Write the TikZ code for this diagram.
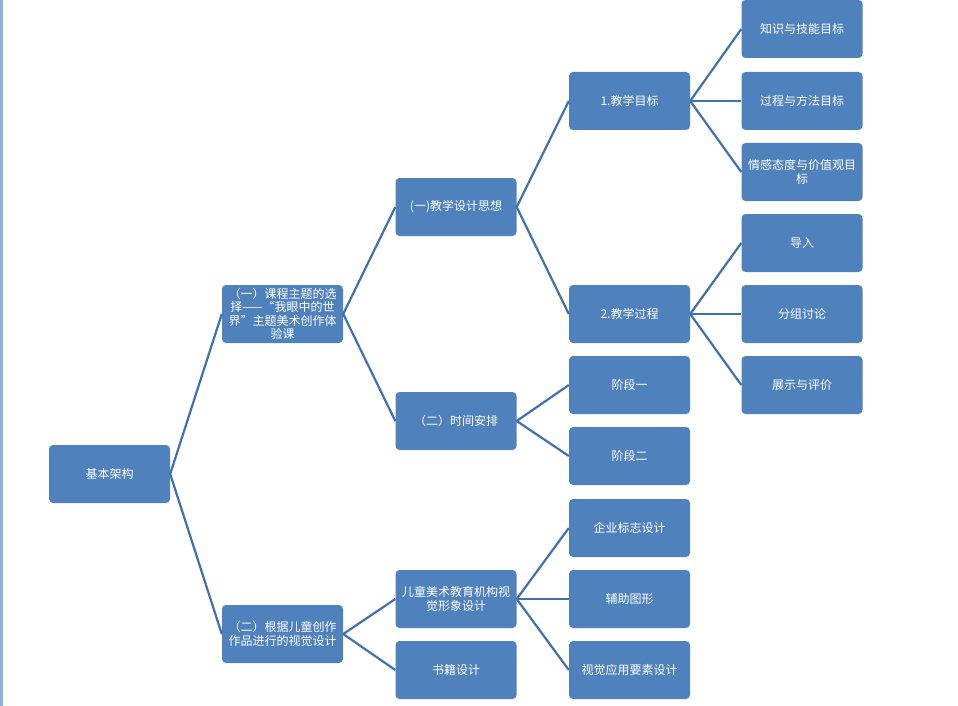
\documentclass[tikz,border=0pt]{standalone}
\usepackage{fontspec}
\newfontfamily\cjk{Noto Sans CJK SC}
\usepackage{xcolor}
\definecolor{boxblue}{HTML}{4F81BD}
\definecolor{linkblue}{HTML}{4170AE}
\definecolor{edgeblue}{HTML}{8DB0DC}

\begin{document}
\begin{tikzpicture}[
  x=1pt,y=-1pt,
  box/.style={fill=boxblue,rounded corners=4pt,minimum width=121pt,minimum height=58pt,
    inner sep=2pt,align=center,text=white,font=\cjk\fontsize{12}{13.5}\selectfont},
  link/.style={draw=linkblue,line width=2.2pt},
]
  \useasboundingbox (0,0) rectangle (958,706);
  \fill[edgeblue] (0,0) rectangle (2.5,706);

  % level 0 and 1
  \node[box] (root) at (109.5,474) {基本架构};
  \node[box] (course) at (282.5,314) {（一）课程主题的选\\择——“我眼中的世\\界”主题美术创作体\\验课};
  \node[box] (visual) at (282.5,634) {（二）根据儿童创作\\作品进行的视觉设计};

  % level 2
  \node[box] (idea) at (456,207) {(一)教学设计思想};
  \node[box] (time) at (456,421) {（二）时间安排};
  \node[box] (brand) at (456,599) {儿童美术教育机构视\\觉形象设计};
  \node[box] (book) at (456,670) {书籍设计};

  % level 3
  \node[box] (goal) at (629.5,101) {1.教学目标};
  \node[box] (proc) at (629.5,314) {2.教学过程};
  \node[box] (stage1) at (629.5,385) {阶段一};
  \node[box] (stage2) at (629.5,456) {阶段二};
  \node[box] (logo) at (629.5,528) {企业标志设计};
  \node[box] (aux) at (629.5,599) {辅助图形};
  \node[box] (apply) at (629.5,670) {视觉应用要素设计};

  % level 4
  \node[box] (skill) at (802,29) {知识与技能目标};
  \node[box] (method) at (802,101) {过程与方法目标};
  \node[box] (value) at (802,172) {情感态度与价值观目\\标};
  \node[box] (intro) at (802,243) {导入};
  \node[box] (group) at (802,314) {分组讨论};
  \node[box] (show) at (802,385) {展示与评价};

  \draw[link] (root.east) -- (course.west);
  \draw[link] (root.east) -- (visual.west);
  \draw[link] (course.east) -- (idea.west);
  \draw[link] (course.east) -- (time.west);
  \draw[link] (visual.east) -- (brand.west);
  \draw[link] (visual.east) -- (book.west);
  \draw[link] (idea.east) -- (goal.west);
  \draw[link] (idea.east) -- (proc.west);
  \draw[link] (time.east) -- (stage1.west);
  \draw[link] (time.east) -- (stage2.west);
  \draw[link] (brand.east) -- (logo.west);
  \draw[link] (brand.east) -- (aux.west);
  \draw[link] (brand.east) -- (apply.west);
  \draw[link] (goal.east) -- (skill.west);
  \draw[link] (goal.east) -- (method.west);
  \draw[link] (goal.east) -- (value.west);
  \draw[link] (proc.east) -- (intro.west);
  \draw[link] (proc.east) -- (group.west);
  \draw[link] (proc.east) -- (show.west);
\end{tikzpicture}
\end{document}
